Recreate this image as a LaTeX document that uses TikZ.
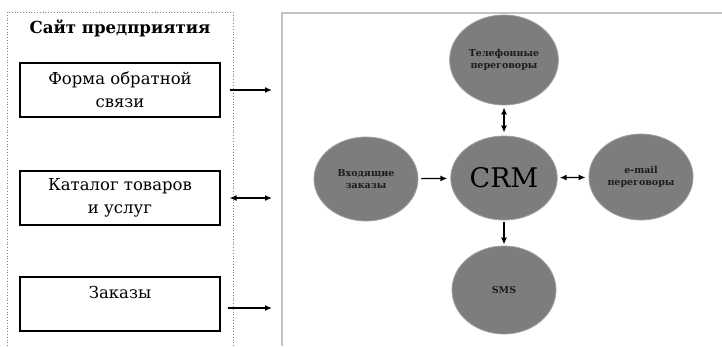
\documentclass[tikz,border=0pt]{standalone}
\usepackage{fontspec}
\setmainfont{DejaVu Serif}
\usetikzlibrary{shapes.geometric,arrows.meta}
\definecolor{ellfill}{RGB}{125,125,125}
\definecolor{ellline}{RGB}{160,160,160}
\definecolor{ink}{RGB}{28,28,28}
\definecolor{framegray}{RGB}{195,195,195}
\tikzset{
  pagebox/.style={draw, line width=1.1pt, minimum width=200pt, minimum height=54pt, align=center, font=\fontsize{16.5}{23}\selectfont},
  chan/.style={ellipse, fill=ellfill, draw=ellline, line width=0.8pt, minimum width=104pt, minimum height=86pt, align=center, text=ink, font=\bfseries\fontsize{9.5}{12}\selectfont},
  arr/.style={line width=1.3pt, -{Latex[length=7pt,width=6pt]}},
  darr/.style={line width=1.3pt, {Latex[length=7pt,width=6pt]}-{Latex[length=7pt,width=6pt]}},
}
\begin{document}
\begin{tikzpicture}[x=1pt, y=-1pt]
  \useasboundingbox (0,0) rectangle (722,346);
  % frames
  \draw[dotted, gray, line width=0.8pt] (7,346) -- (7,12) -- (233,12) -- (233,346);
  \draw[framegray, line width=1.2pt] (282,346) -- (282,13) -- (722,13);
  % site side
  \node[font=\bfseries\fontsize{16.6}{20}\selectfont] (site) at (120,28) {Сайт предприятия};
  \node[pagebox] (f1) at (120,90) {Форма обратной\\связи};
  \node[pagebox] (f2) at (120,198) {Каталог товаров\\и услуг};
  \node[pagebox] (f3) at (120,304) {Заказы\\\mbox{}};
  \coordinate (c1) at (272,90);
  \coordinate (c2) at (272,198);
  \coordinate (c3) at (272,308);
  \draw[arr, shorten <=9pt] (f1.east) -- (c1);
  \draw[darr, shorten <=9pt] (f2.east) -- (c2);
  \draw[arr, shorten <=7pt] (f3.east |- c3) -- (c3);
  % crm side
  \node[chan, font=\fontsize{27}{32}\selectfont, text=black, minimum height=84pt] (crm) at (504,178) {CRM};
  \node[chan, minimum height=90pt] (tel) at (504,60) {Телефонные\\переговоры};
  \node[chan, minimum height=84pt] (inc) at (366,179) {Входящие\\заказы};
  \node[chan] (mail) at (641,177) {e-mail\\переговоры};
  \node[chan, minimum height=88pt] (sms) at (504,290) {SMS};
  \draw[darr, shorten <=2pt, shorten >=3pt] (tel) -- (crm);
  \draw[arr, shorten <=3pt, shorten >=3pt] (inc) -- (crm);
  \draw[darr, shorten <=2pt, shorten >=3pt] (crm) -- (mail);
  \draw[arr, shorten <=2pt, shorten >=1pt] (crm) -- (sms);
\end{tikzpicture}
\end{document}
